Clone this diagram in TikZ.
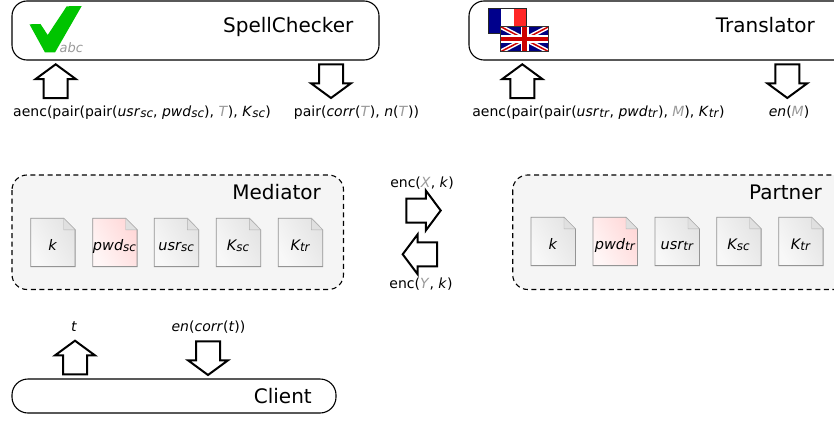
\documentclass[tikz,border=0pt]{standalone}
\usepackage{fontspec}
\setmainfont{DejaVu Sans}
\usetikzlibrary{shadings}
\definecolor{tgray}{HTML}{9A9A9A}
\definecolor{panelbg}{HTML}{F5F5F5}
\definecolor{checkgreen}{HTML}{00C400}
\newcommand{\sbs}[1]{\raisebox{-1pt}{\fontsize{12}{12}\selectfont\textit{#1}}}
\newcommand{\gry}[1]{\textcolor{tgray}{\textit{#1}}}
\newcommand{\itl}[1]{\textit{#1}}
\tikzset{
  service/.style={draw=black,line width=1.1pt,fill=white,rounded corners=15pt},
  panel/.style={draw=black,line width=1.1pt,dashed,dash pattern=on 5pt off 3.6pt,fill=panelbg,rounded corners=15pt},
  title/.style={font=\fontsize{20}{24}\selectfont,anchor=base east,inner sep=0pt},
  msg/.style={font=\fontsize{14}{16}\selectfont,anchor=base,inner sep=0pt},
  filetxt/.style={font=\fontsize{14.5}{17}\selectfont\itshape,anchor=base,inner sep=0pt},
  barrow/.style={draw=black,line width=2pt,fill=white,line join=miter},
  docgray/.style={left color=docA,middle color=docB,right color=docC,shading angle=-60},
  docred/.style={left color=redA,middle color=redB,right color=redC,shading angle=-60},
}
\definecolor{docA}{HTML}{E4E4E4}
\definecolor{docB}{HTML}{D2D2D2}
\definecolor{docC}{HTML}{F8F8F8}
\definecolor{redA}{HTML}{FFD8D8}
\definecolor{redB}{HTML}{FFCCCC}
\definecolor{redC}{HTML}{FFF6F6}
% up arrow: centre x, top y
\newcommand{\uparr}[2]{\begin{scope}[shift={(#1,#2)}]\draw[barrow] (0,0)--(20,14.7)--(12,14.7)--(12,33.7)--(-12,33.7)--(-12,14.7)--(-20,14.7)--cycle;\end{scope}}
\newcommand{\downarr}[2]{\begin{scope}[shift={(#1,#2)}]\draw[barrow] (0,33.7)--(20,19)--(12,19)--(12,0)--(-12,0)--(-12,19)--(-20,19)--cycle;\end{scope}}
\newcommand{\rightarr}[2]{\begin{scope}[shift={(#1,#2)}]\draw[barrow] (34.4,0)--(19.5,-20)--(19.5,-12)--(0,-12)--(0,12)--(19.5,12)--(19.5,20)--cycle;\end{scope}}
\newcommand{\leftarr}[2]{\begin{scope}[shift={(#1,#2)}]\draw[barrow] (0,0)--(15,-20)--(15,-12)--(34.4,-12)--(34.4,12)--(15,12)--(15,20)--cycle;\end{scope}}
% file: name, x, y, style, text
\newcommand{\docfile}[5]{\begin{scope}[shift={(#2,#3)}]
  \path[#4,draw=black!42,line width=.8pt] (0,0)--(33,0)--(44.4,11.5)--(44.4,48.3)--(0,48.3)--cycle;
  \path[fill=black!12,draw=black!30,line width=.4pt] (33,0)--(44.4,11.5)--(33,11.5)--cycle;
  \node[filetxt] (#1) at (21.8,32) {#5};
\end{scope}}
\begin{document}
\begin{tikzpicture}[x=1pt,y=-1pt]
\useasboundingbox (0,0) rectangle (834,420);
\clip (0,0) rectangle (834,420);
% services
\path[service] (12,1) rectangle (379,60);
\node[title] (sc) at (353.5,33) {SpellChecker};
\path[service] (469,1) rectangle (850,60);
\node[title] (tr) at (815,33) {Translator};
\path[service,rounded corners=16pt] (12,379) rectangle (336,413);
\node[title] (cl) at (312,403) {Client};
% check mark
\fill[checkgreen] (29.5,24.3)--(40.5,24)--(47.7,35)--(66.7,6.3)--(81.7,6)--(55,52.5)--(45,52.5)--cycle;
\node[font=\fontsize{13}{14}\selectfont\itshape,text=tgray,anchor=base west,inner sep=0pt] (abc) at (59.5,52.5) {abc};
% flags
\begin{scope}
  \fill[blue!55!black] (488.3,8.3) rectangle (501,33.5);
  \fill[white] (501,8.3) rectangle (514,33.5);
  \fill[red!85!white] (514,8.3) rectangle (526.7,33.5);
  \draw[black!85,line width=.9pt] (488.3,8.3) rectangle (526.7,33.5);
\end{scope}
\begin{scope}
  \clip (500.7,26.7) rectangle (548.7,51.7);
  \fill[blue!50!black] (500.7,26.7) rectangle (548.7,51.7);
  \draw[white,line width=4.5pt] (500.7,26.7)--(548.7,51.7) (500.7,51.7)--(548.7,26.7);
  \draw[red!80!black,line width=1.5pt] (500.7,26.7)--(548.7,51.7) (500.7,51.7)--(548.7,26.7);
  \draw[white,line width=8pt] (524.7,26.7)--(524.7,51.7) (500.7,39.2)--(548.7,39.2);
  \draw[red!80!black,line width=4.5pt] (524.7,26.7)--(524.7,51.7) (500.7,39.2)--(548.7,39.2);
\end{scope}
\draw[black!80,line width=.9pt] (500.7,26.7) rectangle (548.7,51.7);
% top arrows and labels
\uparr{55.7}{64.3}
\downarr{331}{64.3}
\uparr{522.3}{64.3}
\downarr{787.3}{64.3}
\node[msg] (m1) at (142,116) {aenc(pair(pair(\itl{usr}\sbs{sc}, \itl{pwd}\sbs{sc}), \gry{T}), \itl{K}\sbs{sc})};
\node[msg] (m2) at (356.5,116) {pair(\itl{corr}(\gry{T}), \itl{n}(\gry{T}))};
\node[msg] (m3) at (598.5,116) {aenc(pair(pair(\itl{usr}\sbs{tr}, \itl{pwd}\sbs{tr}), \gry{M}), \itl{K}\sbs{tr})};
\node[msg] (m4) at (789,116) {\itl{en}(\gry{M})};
% panels
\path[panel] (12,175) rectangle (343.5,289.5);
\node[title] (med) at (321,199) {Mediator};
\path[panel] (512.7,175) rectangle (850,289.5);
\node[title] (par) at (822,199) {Partner};
\docfile{fa}{30.7}{218.3}{docgray}{k}
\docfile{fb}{92.7}{218.3}{docred}{pwd\sbs{sc}}
\docfile{fc}{154.3}{218.3}{docgray}{usr\sbs{sc}}
\docfile{fd}{216.3}{218.3}{docgray}{K\sbs{sc}}
\docfile{fe}{278.3}{218.3}{docgray}{K\sbs{tr}}
\docfile{ga}{531}{217.3}{docgray}{k}
\docfile{gb}{593}{217.3}{docred}{pwd\sbs{tr}}
\docfile{gc}{655}{217.3}{docgray}{usr\sbs{tr}}
\docfile{gd}{716.7}{217.3}{docgray}{K\sbs{sc}}
\docfile{ge}{778.7}{217.3}{docgray}{K\sbs{tr}}
% exchange
\rightarr{406.3}{210.5}
\leftarr{402.7}{254.3}
\node[msg] (x) at (422,187) {enc(\gry{X}, \itl{k})};
\node[msg] (y) at (421,288) {enc(\gry{Y}, \itl{k})};
% client arrows
\uparr{75}{340.7}
\downarr{208}{341.3}
\node[msg] (t) at (74,331) {\itl{t}};
\node[msg] (ct) at (208.5,331) {\itl{en}(\itl{corr}(\itl{t}))};
\end{tikzpicture}
\end{document}
